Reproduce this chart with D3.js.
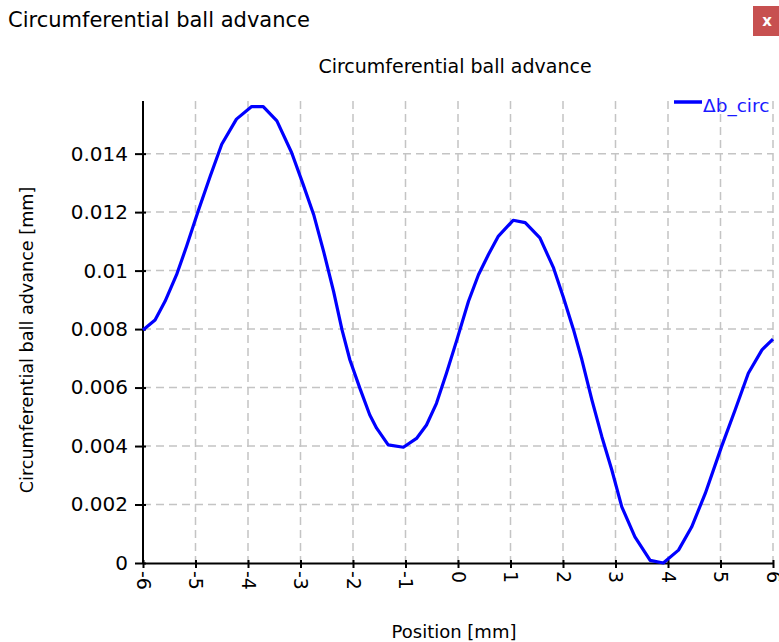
<!DOCTYPE html>
<html><head><meta charset="utf-8">
<script src="https://cdn.jsdelivr.net/npm/d3@7"></script>
<style>
html,body{margin:0;padding:0;background:#fff;}
svg text{font-family:"DejaVu Sans",sans-serif;}
</style></head>
<body>
<svg id="c" width="779" height="642"></svg>
<script>
const positions = [-6, -5.77, -5.58, -5.36, -5.17, -4.95, -4.72, -4.50, -4.22, -3.93, -3.71, -3.45, -3.17, -2.95, -2.75, -2.56, -2.37, -2.21, -2.06, -1.87, -1.68, -1.55, -1.33, -1.04, -0.79, -0.60, -0.41, -0.22, -0.02, 0.20, 0.39, 0.58, 0.77, 1.05, 1.28, 1.56, 1.82, 2.01, 2.20, 2.36, 2.55, 2.74, 2.93, 3.12, 3.37, 3.66, 3.91, 4.20, 4.45, 4.71, 5.02, 5.28, 5.53, 5.79, 6.0];
const ballAdvance = [0.00797, 0.00831, 0.00895, 0.00986, 0.01083, 0.01203, 0.01323, 0.01432, 0.01518, 0.01561, 0.01561, 0.01512, 0.01404, 0.01295, 0.01192, 0.01066, 0.00929, 0.00798, 0.00695, 0.00598, 0.00506, 0.00461, 0.00404, 0.00396, 0.00426, 0.00472, 0.00546, 0.00649, 0.00764, 0.00895, 0.00986, 0.01055, 0.01118, 0.01172, 0.01164, 0.01112, 0.01009, 0.00907, 0.00798, 0.00695, 0.00558, 0.00432, 0.00318, 0.00192, 0.00089, 0.00009, 0.0, 0.00044, 0.00123, 0.00238, 0.00398, 0.00524, 0.00649, 0.00729, 0.00766];
const xTicks = [-6,-5,-4,-3,-2,-1,0,1,2,3,4,5,6];
const xTickLabels = ["-6","-5","-4","-3","-2","-1","0","1","2","3","4","5","6"];
const yTicks = [0,0.002,0.004,0.006,0.008,0.01,0.012,0.014];
const yTickLabels = ["0","0.002","0.004","0.006","0.008","0.01","0.012","0.014"];
const seriesName = "\u0394b_circ";
const windowTitle = "Circumferential ball advance";
const chartTitle = "Circumferential ball advance";
const xLabel = "Position [mm]";
const yLabel = "Circumferential ball advance [mm]";

const svg = d3.select("#c");
const L = 143, R = 773, T = 101, B = 563;
const x = d3.scaleLinear().domain([-6,6]).range([L,R]);
const y = d3.scaleLinear().domain([0,0.0158]).range([B,T]);

// window title and close button
svg.append("text").attr("x",8).attr("y",27).attr("font-size",21).attr("textLength",302).attr("lengthAdjust","spacingAndGlyphs").attr("fill","#000").text(windowTitle);
svg.append("rect").attr("x",753).attr("y",6).attr("width",30).attr("height",30).attr("fill","#c75050");
svg.append("text").attr("x",767).attr("y",26).attr("text-anchor","middle").attr("font-size",15).attr("font-weight","bold").attr("fill","#fff").text("x");

// chart title
svg.append("text").attr("x",455).attr("y",73).attr("text-anchor","middle").attr("font-size",19).attr("fill","#000").text(chartTitle);

// grid
const grid = svg.append("g").attr("stroke","#c4c4c4").attr("stroke-width",1.5).attr("stroke-dasharray","8,5");
grid.selectAll("line.v").data(xTicks.slice(1)).enter().append("line")
  .attr("x1",d=>x(d)).attr("x2",d=>x(d)).attr("y1",T).attr("y2",B);
grid.selectAll("line.h").data(yTicks.slice(1)).enter().append("line")
  .attr("x1",L).attr("x2",R).attr("y1",d=>y(d)).attr("y2",d=>y(d));

// axes
const yAxis = d3.axisLeft(y).tickValues(yTicks).tickFormat((d,i)=>yTickLabels[i]).tickSizeInner(8).tickSizeOuter(0).tickPadding(7);
const gy = svg.append("g").attr("transform",`translate(${L},0)`).call(yAxis);
gy.select(".domain").attr("stroke","#000").attr("stroke-width",2).attr("d",`M0,${T}V${B}`);
gy.selectAll(".tick line").attr("stroke","#000").attr("stroke-width",2).attr("x1",3);
gy.selectAll(".tick text").attr("font-size",20).attr("fill","#000").attr("font-family","DejaVu Sans, sans-serif");

const xAxis = d3.axisBottom(x).tickValues(xTicks).tickFormat((d,i)=>xTickLabels[i]).tickSizeInner(5).tickSizeOuter(0);
const gx = svg.append("g").attr("transform",`translate(0,${B})`).call(xAxis);
gx.select(".domain").attr("stroke","#000").attr("stroke-width",2);
gx.selectAll(".tick line").attr("stroke","#000").attr("stroke-width",2).attr("y1",-3);
gx.selectAll(".tick text").attr("font-size",19).attr("fill","#000")
  .attr("font-family","DejaVu Sans, sans-serif")
  .attr("text-anchor","start").attr("y",0).attr("x",0).attr("dy","0.36em")
  .attr("transform","translate(0,8) rotate(90)");

// axis labels
svg.append("text").attr("x",454).attr("y",638).attr("text-anchor","middle").attr("font-size",18).attr("fill","#000").text(xLabel);
svg.append("text").attr("transform","translate(33,340) rotate(-90)").attr("text-anchor","middle").attr("font-size",17.6).attr("fill","#000").text(yLabel);

// series
const data = positions.map((p,i)=>({p, v: ballAdvance[i]}));
svg.append("path").datum(data).attr("fill","none").attr("stroke","#0000ff").attr("stroke-width",3.2)
  .attr("stroke-linejoin","round")
  .attr("d", d3.line().x(d=>x(d.p)).y(d=>y(d.v)));

// legend
svg.append("line").attr("x1",674).attr("x2",702).attr("y1",102).attr("y2",102).attr("stroke","#0000ff").attr("stroke-width",3.5);
svg.append("text").attr("x",703).attr("y",112).attr("font-size",18.5).attr("fill","#1a1aff").text(seriesName);
</script>
</body></html>
